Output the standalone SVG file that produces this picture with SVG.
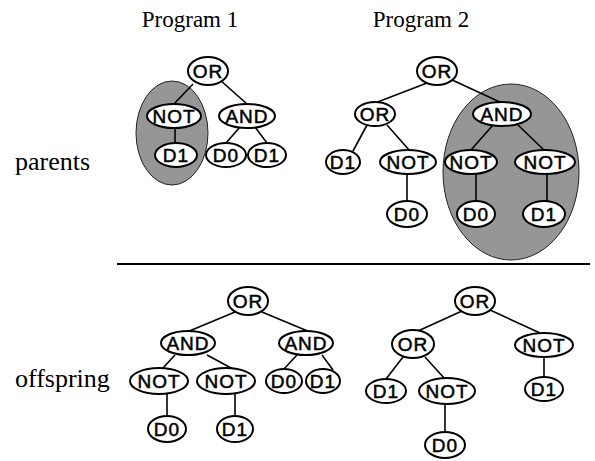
<svg xmlns="http://www.w3.org/2000/svg" width="595" height="461" viewBox="0 0 595 461">
<style>
.lbl{font-family:"Liberation Serif","Times New Roman",serif;fill:#000}
.n ellipse{fill:#fff;stroke:#000;stroke-width:2}
.n text{font-family:"Liberation Sans",Arial,sans-serif;font-size:19px;letter-spacing:1px;text-anchor:middle;fill:#000;stroke:#000;stroke-width:0.5}
.hl{fill:#969696;stroke:#222;stroke-width:1}
#edges line{stroke:#000;stroke-width:1.6}
</style>
<rect width="595" height="461" fill="#fff"/>
<text class="lbl" x="190" y="27" font-size="23" text-anchor="middle">Program 1</text>
<text class="lbl" x="421" y="27" font-size="23" text-anchor="middle">Program 2</text>
<text class="lbl" x="15" y="170" font-size="26">parents</text>
<text class="lbl" x="15" y="387" font-size="26">offspring</text>
<line x1="117" y1="264" x2="590" y2="264" stroke="#000" stroke-width="2"/>
<g id="highlights">
<ellipse class="hl" cx="172" cy="133" rx="36" ry="52"/>
<ellipse class="hl" cx="511" cy="172" rx="68" ry="88"/>
</g>
<g id="edges">
<line x1="193" y1="84" x2="173" y2="105"/>
<line x1="220" y1="80" x2="247" y2="104"/>
<line x1="175" y1="128" x2="175" y2="143"/>
<line x1="240" y1="127" x2="226" y2="143"/>
<line x1="255" y1="127" x2="267" y2="143"/>
<line x1="427" y1="83" x2="375" y2="103"/>
<line x1="450" y1="79" x2="502" y2="103"/>
<line x1="367" y1="125" x2="353" y2="151"/>
<line x1="387" y1="125" x2="410" y2="151"/>
<line x1="407" y1="174" x2="407" y2="202"/>
<line x1="493" y1="125" x2="470" y2="151"/>
<line x1="518" y1="125" x2="545" y2="151"/>
<line x1="476" y1="174" x2="476" y2="202"/>
<line x1="547" y1="174" x2="547" y2="202"/>
<line x1="235" y1="312" x2="187" y2="332"/>
<line x1="262" y1="312" x2="310" y2="332"/>
<line x1="175" y1="355" x2="162" y2="369"/>
<line x1="207" y1="355" x2="233" y2="369"/>
<line x1="297" y1="355" x2="283" y2="370"/>
<line x1="322" y1="355" x2="333" y2="370"/>
<line x1="167" y1="394" x2="167" y2="416"/>
<line x1="235" y1="394" x2="235" y2="416"/>
<line x1="462" y1="311" x2="418" y2="331"/>
<line x1="490" y1="310" x2="540" y2="333"/>
<line x1="544" y1="357" x2="544" y2="377"/>
<line x1="403" y1="357" x2="386" y2="379"/>
<line x1="425" y1="357" x2="445" y2="379"/>
<line x1="445" y1="404" x2="445" y2="432"/>
</g>
<g id="p1_or" class="n"><ellipse cx="208" cy="71" rx="20" ry="14"/><text x="208" y="78">OR</text></g>
<g id="p1_not" class="n"><ellipse cx="174" cy="116" rx="27" ry="12"/><text x="174" y="123">NOT</text></g>
<g id="p1_and" class="n"><ellipse cx="247" cy="116" rx="28" ry="12"/><text x="247" y="123">AND</text></g>
<g id="p1_d1a" class="n"><ellipse cx="176" cy="155" rx="21" ry="12"/><text x="176" y="162">D1</text></g>
<g id="p1_d0" class="n"><ellipse cx="226" cy="155" rx="20" ry="12"/><text x="226" y="162">D0</text></g>
<g id="p1_d1b" class="n"><ellipse cx="267" cy="155" rx="19" ry="12"/><text x="267" y="162">D1</text></g>
<g id="p2_or" class="n"><ellipse cx="437" cy="71" rx="20" ry="14"/><text x="437" y="78">OR</text></g>
<g id="p2_or2" class="n"><ellipse cx="375" cy="114" rx="20" ry="12"/><text x="375" y="121">OR</text></g>
<g id="p2_and" class="n"><ellipse cx="502" cy="114" rx="29" ry="12"/><text x="502" y="121">AND</text></g>
<g id="p2_d1" class="n"><ellipse cx="343" cy="162" rx="17" ry="12"/><text x="343" y="169">D1</text></g>
<g id="p2_not1" class="n"><ellipse cx="408" cy="162" rx="28" ry="12"/><text x="408" y="169">NOT</text></g>
<g id="p2_not2" class="n"><ellipse cx="471" cy="162" rx="26" ry="12"/><text x="471" y="169">NOT</text></g>
<g id="p2_not3" class="n"><ellipse cx="545" cy="162" rx="30" ry="12"/><text x="545" y="169">NOT</text></g>
<g id="p2_d0a" class="n"><ellipse cx="407" cy="214" rx="20" ry="13"/><text x="407" y="221">D0</text></g>
<g id="p2_d0b" class="n"><ellipse cx="476" cy="214" rx="19" ry="13"/><text x="476" y="221">D0</text></g>
<g id="p2_d1b" class="n"><ellipse cx="544" cy="214" rx="21" ry="13"/><text x="544" y="221">D1</text></g>
<g id="o1_or" class="n"><ellipse cx="248" cy="301" rx="20" ry="14"/><text x="248" y="308">OR</text></g>
<g id="o1_and1" class="n"><ellipse cx="188" cy="343" rx="27" ry="12"/><text x="188" y="350">AND</text></g>
<g id="o1_and2" class="n"><ellipse cx="306" cy="343" rx="27" ry="12"/><text x="306" y="350">AND</text></g>
<g id="o1_not1" class="n"><ellipse cx="159" cy="381" rx="29" ry="13"/><text x="159" y="388">NOT</text></g>
<g id="o1_not2" class="n"><ellipse cx="226" cy="381" rx="29" ry="13"/><text x="226" y="388">NOT</text></g>
<g id="o1_d0" class="n"><ellipse cx="284" cy="381" rx="18" ry="12"/><text x="284" y="388">D0</text></g>
<g id="o1_d1" class="n"><ellipse cx="323" cy="381" rx="17" ry="12"/><text x="323" y="388">D1</text></g>
<g id="o1_d0b" class="n"><ellipse cx="167" cy="429" rx="19" ry="13"/><text x="167" y="436">D0</text></g>
<g id="o1_d1b" class="n"><ellipse cx="235" cy="429" rx="18" ry="13"/><text x="235" y="436">D1</text></g>
<g id="o2_or" class="n"><ellipse cx="475" cy="301" rx="20" ry="14"/><text x="475" y="308">OR</text></g>
<g id="o2_or2" class="n"><ellipse cx="413" cy="344" rx="21" ry="14"/><text x="413" y="351">OR</text></g>
<g id="o2_not" class="n"><ellipse cx="544" cy="345" rx="29" ry="12"/><text x="544" y="352">NOT</text></g>
<g id="o2_d1" class="n"><ellipse cx="386" cy="391" rx="20" ry="12"/><text x="386" y="398">D1</text></g>
<g id="o2_not2" class="n"><ellipse cx="447" cy="391" rx="28" ry="13"/><text x="447" y="398">NOT</text></g>
<g id="o2_d1b" class="n"><ellipse cx="544" cy="389" rx="19" ry="12"/><text x="544" y="396">D1</text></g>
<g id="o2_d0" class="n"><ellipse cx="445" cy="445" rx="20" ry="13"/><text x="445" y="452">D0</text></g>
</svg>
